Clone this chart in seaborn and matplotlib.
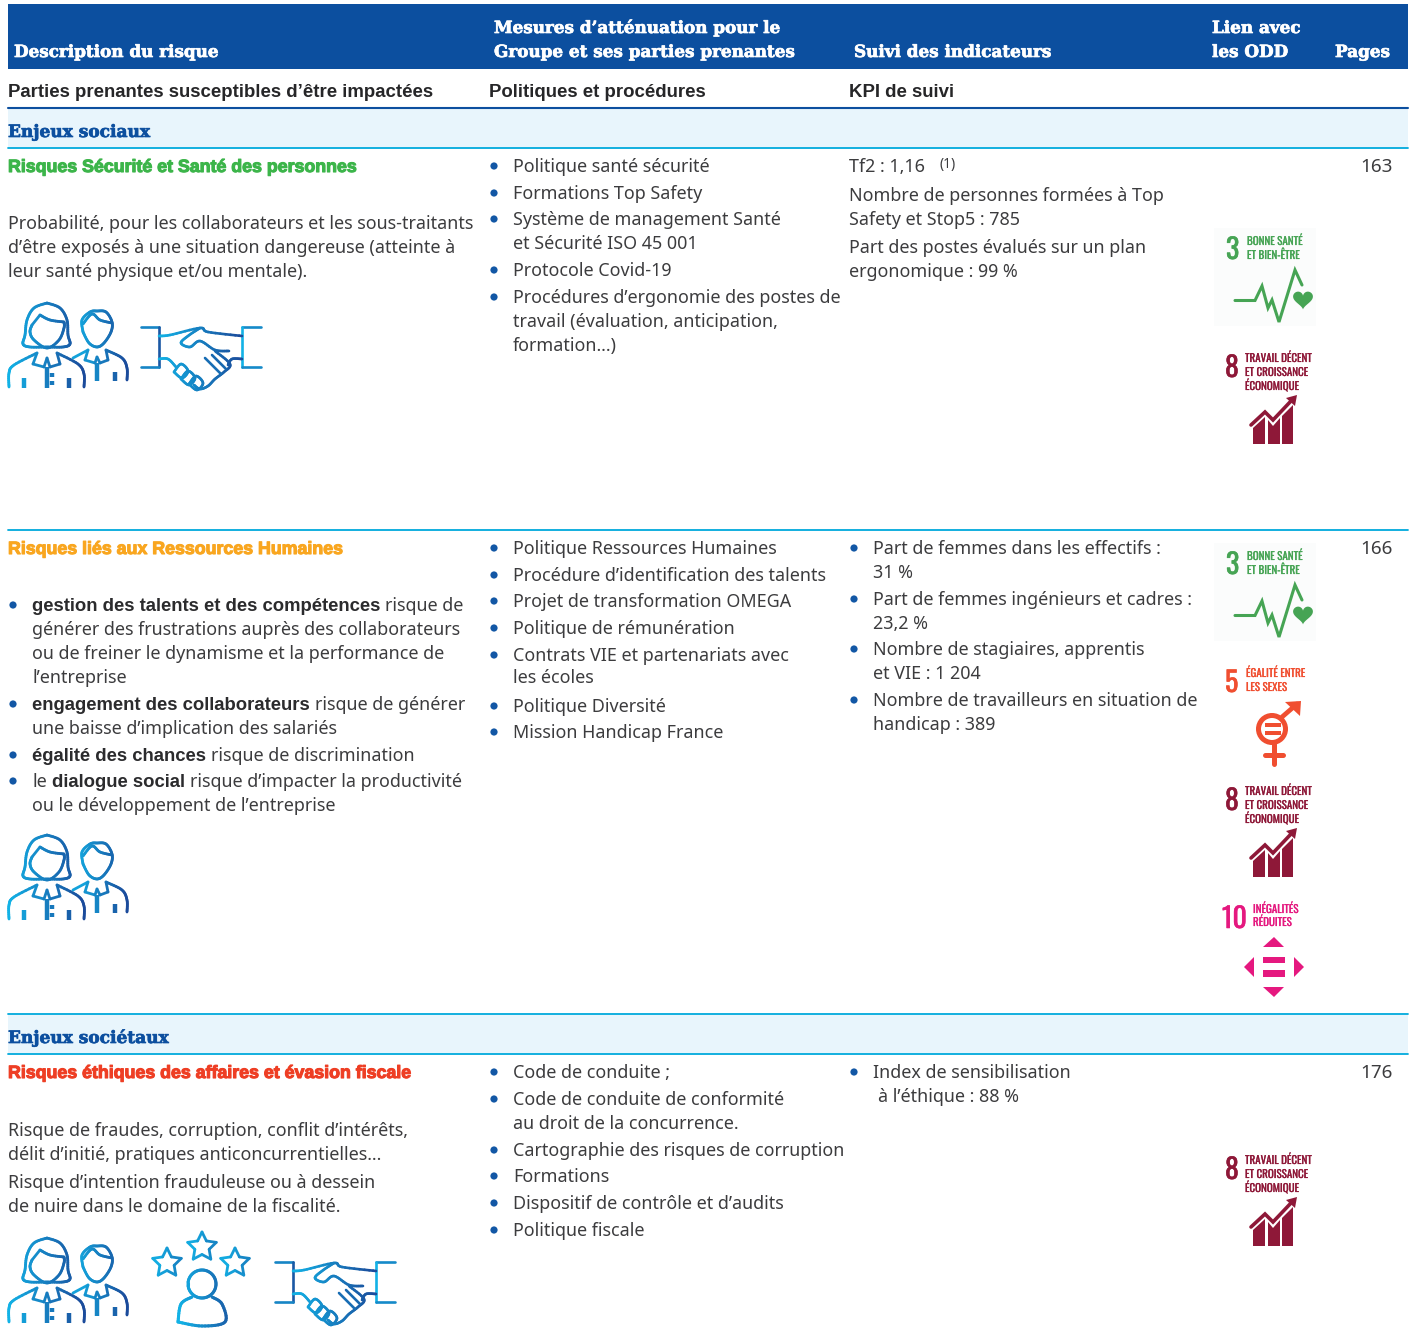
import numpy as np
import matplotlib
matplotlib.use("Agg")
import matplotlib.pyplot as plt
import seaborn as sns
from matplotlib.collections import LineCollection
from matplotlib.patches import Circle, Polygon, Rectangle
import matplotlib.patheffects as pe
import logging
logging.getLogger("matplotlib.font_manager").setLevel(logging.ERROR)

# contenu du tableau
head_titles = ["Description du risque", "Suivi des indicateurs", "Pages"]
head_two_lines = [["Mesures d’atténuation pour le", "Groupe et ses parties prenantes"], ["Lien avec", "les ODD"]]
sub_titles = ["Parties prenantes susceptibles d’être impactées", "Politiques et procédures", "KPI de suivi"]
sections = ["Enjeux sociaux", "Enjeux sociétaux"]
risk_titles = ["Risques Sécurité et Santé des personnes", "Risques liés aux Ressources Humaines",
               "Risques éthiques des affaires et évasion fiscale"]
pages = ["163", "166", "176"]

desc1 = ["Probabilité, pour les collaborateurs et les sous-traitants",
         "d’être exposés à une situation dangereuse (atteinte à",
         "leur santé physique et/ou mentale)."]
desc3 = ["Risque de fraudes, corruption, conflit d’intérêts,",
         "délit d’initié, pratiques anticoncurrentielles…",
         "Risque d’intention frauduleuse ou à dessein",
         "de nuire dans le domaine de la fiscalité."]
# (debut normal, gras, suite normale)
desc2 = [("", "gestion des talents et des compétences", "risque de"),
         ("", "", "générer des frustrations auprès des collaborateurs"),
         ("", "", "ou de freiner le dynamisme et la performance de"),
         ("", "", "l’entreprise"),
         ("", "engagement des collaborateurs", "risque de générer"),
         ("", "", "une baisse d’implication des salariés"),
         ("", "égalité des chances", "risque de discrimination"),
         ("le", "dialogue social", "risque d’impacter la productivité"),
         ("", "", "ou le développement de l’entreprise")]

mes1 = ["Politique santé sécurité", "Formations Top Safety", "Système de management Santé",
        "et Sécurité ISO 45 001", "Protocole Covid-19", "Procédures d’ergonomie des postes de",
        "travail (évaluation, anticipation,", "formation…)"]
mes2 = ["Politique Ressources Humaines", "Procédure d’identification des talents",
        "Projet de transformation OMEGA", "Politique de rémunération", "Contrats VIE et partenariats avec",
        "les écoles", "Politique Diversité", "Mission Handicap France"]
mes3 = ["Code de conduite ;", "Code de conduite de conformité", "au droit de la concurrence.",
        "Cartographie des risques de corruption", "Formations", "Dispositif de contrôle et d’audits",
        "Politique fiscale"]

kpi1 = ["Tf2 : 1,16", "Nombre de personnes formées à Top", "Safety et Stop5 : 785",
        "Part des postes évalués sur un plan", "ergonomique : 99 %"]
kpi2 = ["Part de femmes dans les effectifs :", "31 %", "Part de femmes ingénieurs et cadres :", "23,2 %",
        "Nombre de stagiaires, apprentis", "et VIE : 1 204", "Nombre de travailleurs en situation de",
        "handicap : 389"]
kpi3 = ["Index de sensibilisation", "à l’éthique : 88 %"]

odd3 = ["3", "BONNE SANTÉ", "ET BIEN-ÊTRE"]
odd5 = ["5", "ÉGALITÉ ENTRE", "LES SEXES"]
odd8 = ["8", "TRAVAIL DÉCENT", "ET CROISSANCE", "ÉCONOMIQUE"]
odd10 = ["10", "INÉGALITÉS", "RÉDUITES"]

# positions verticales (lignes de base, en pixels)
y_desc1 = [229, 253, 277]
y_desc2 = [611, 635, 659, 683, 710, 734, 761, 787, 811]
y_desc3 = [1136, 1160, 1188, 1212]
y_mes1 = [172, 199, 225, 249, 276, 303, 327, 351]
y_mes2 = [554, 581, 607, 634, 661, 683, 712, 738]
y_mes3 = [1078, 1105, 1129, 1156, 1182, 1209, 1236]
y_kpi1 = [172, 201, 225, 253, 277]
y_kpi2 = [554, 578, 605, 629, 655, 679, 706, 730]
y_kpi3 = [1078, 1102]
bul_mes1 = [0, 1, 2, 4, 5]
bul_mes2 = [0, 1, 2, 3, 4, 6, 7]
bul_mes3 = [0, 1, 3, 4, 5, 6]
bul_kpi2 = [0, 2, 4, 6]
bul_desc2 = [0, 4, 6, 7]

sns.set_theme(style="white")
W, H = 1416, 1341
BODY = ["Noto Sans", "DejaVu Sans"]
SLAB = ["DejaVu Serif"]
GROTESK = ["Liberation Sans"]
NARROW = ["Oswald", "Liberation Sans"]
INK, NAVY, CYAN, DOT = "#3c3c3e", "#0c4f9f", "#00a9dc", "#1257a5"
BODY_SIZE = 12.9
icon_cols = sns.blend_palette(["#12b2e6", "#1b4b9b"], 40)

fig = plt.figure(figsize=(W / 100, H / 100), dpi=100)
ax = fig.add_axes([0, 0, 1, 1])
ax.set_xlim(0, W)
ax.set_ylim(H, 0)
ax.axis("off")
sns.despine(ax=ax, left=True, bottom=True)
rend = fig.canvas.get_renderer()


def put(x, y, s, size=BODY_SIZE, color=INK, family=BODY, weight="normal", heavy=0, **kw):
    t = ax.text(x, y, s, fontsize=size, color=color, family=family, weight=weight, va="baseline", **kw)
    if heavy:
        t.set_path_effects([pe.withStroke(linewidth=heavy, foreground=color)])
    return t


def body(x, y, s, weight="normal"):
    if weight == "bold":
        t = put(x, y, s, size=13.37, color="#2b2b2d", family=GROTESK, weight="bold")
    else:
        t = put(x, y, s)
    return x + t.get_window_extent(rend).width


def dot(x, y):
    ax.add_patch(Circle((x, y - 6), 3.6, color=DOT, lw=0))


def stroke(pts, x0, x1, lw=2.0, smooth=True):
    # trait en degrade clair -> fonce selon x
    p = np.array(pts, dtype=float)
    if smooth and len(p) > 2:
        q = np.vstack([p[0], p, p[-1]])
        out = []
        for i in range(1, len(q) - 2):
            for t in np.linspace(0, 1, 8, endpoint=False):
                a, b, c, d = q[i - 1], q[i], q[i + 1], q[i + 2]
                out.append(0.5 * (2 * b + (c - a) * t + (2 * a - 5 * b + 4 * c - d) * t ** 2
                                  + (3 * b - a - 3 * c + d) * t ** 3))
        out.append(p[-1])
        p = np.array(out)
    segs = np.stack([p[:-1], p[1:]], axis=1)
    mid = np.clip((segs[:, :, 0].mean(axis=1) - x0) / (x1 - x0), 0, 0.999)
    cols = [icon_cols[int(m * len(icon_cols))] for m in mid]
    cap = "butt" if lw >= 3 else "round"
    ax.add_collection(LineCollection(segs, colors=cols, linewidths=lw, capstyle=cap, joinstyle="round"))


def people(dy):
    def s(pts, smooth=True, lw=2.0, a=8, b=85):
        stroke([(x, y + dy) for x, y in pts], a, b, lw, smooth)
    s([(47, 303), (34, 308), (27, 320), (25, 335), (23, 344), (30, 347), (47, 347)], True)
    s([(47, 303), (60, 308), (67, 320), (68, 335), (70, 344), (63, 347), (47, 347)], True)
    s([(32, 325), (40, 315)], False)
    s([(40, 315), (50, 320), (64, 322)], True)
    s([(32, 325), (30, 332), (34, 340), (47, 348), (59, 340), (64, 328), (64, 322)], True)
    s([(9, 387), (9, 373), (14, 365), (37, 353)], True)
    s([(37, 353), (33, 364), (44, 367), (47, 358), (50, 367), (60, 364), (57, 353)], False)
    s([(57, 353), (78, 364), (84, 374), (84, 387)], True)
    for x, y0, y1 in [(47, 367, 388), (24, 378, 388), (69, 378, 388), (52, 373, 377), (52, 381, 385)]:
        s([(x, y0), (x, y1)], False, 3.2)

    def m(pts, smooth=True, lw=2.0):
        stroke([(x, y + dy) for x, y in pts], 72, 128, lw, smooth)
    m([(83, 332), (82, 320), (90, 312), (97, 311), (106, 312), (112, 322), (111, 332), (104, 343), (97, 347),
       (89, 343), (83, 332)])
    m([(83, 324), (92, 314), (100, 320), (112, 323)])
    m([(73, 358), (88, 350)], False)
    m([(88, 350), (85, 360), (95, 363), (97, 357), (100, 363), (108, 360), (106, 350)], False)
    m([(106, 350), (122, 358), (127, 368), (127, 380)])
    m([(97, 363), (97, 381)], False, 3.2)
    m([(115, 372), (115, 381)], False, 3.2)


def handshake(dx, dy):
    a, b = 159 + dx, 242 + dx

    def s(pts, smooth=True, lw=1.9, lo=None, hi=None):
        stroke([(x + dx, y + dy) for x, y in pts], lo or a, hi or b, lw, smooth)
    s([(141, 327), (159, 327), (159, 367), (141, 367)], False, lo=141 + dx, hi=162 + dx)
    s([(261, 327), (242, 327), (242, 367), (261, 367)], False, lo=242 + dx, hi=266 + dx)
    s([(159, 336), (170, 335), (200, 328), (208, 332), (242, 336)])
    s([(200, 328), (188, 336), (181, 343), (190, 347), (200, 341), (215, 350), (229, 351)])
    s([(159, 359), (168, 359), (176, 367)])
    s([(242, 359), (232, 359), (228, 365)])
    s([(215, 351), (230, 364), (224, 372), (215, 379), (208, 386), (200, 389), (194, 385)])
    s([(205, 358), (221, 374)], False)
    s([(212, 355), (226, 369)], False)
    for cx, cy in [(181, 371), (188, 378), (196, 383)]:
        s([(cx - 7, cy + 1), (cx, cy - 7), (cx + 7, cy), (cx + 1, cy + 7), (cx - 7, cy + 1)])


def star_person():
    for cx, cy, r in [(167, 1263, 15), (202, 1247, 15), (235, 1263, 15)]:
        ang = np.deg2rad(np.arange(0, 361, 36) - 90)
        rad = np.where(np.arange(11) % 2 == 0, r, r * 0.5)
        stroke(np.c_[cx + rad * np.cos(ang), cy + rad * np.sin(ang)], cx - r, cx + r * 3, 2.0, False)
    th = np.linspace(0, 2 * np.pi, 60)
    stroke(np.c_[202 + 14 * np.cos(th), 1284 + 14 * np.sin(th)], 178, 240, 2.2, False)
    stroke([(178, 1322), (181, 1304), (192, 1297)], 178, 240, 2.2)
    stroke([(212, 1297), (222, 1304), (225, 1322), (202, 1326), (178, 1322)], 178, 240, 2.2)


def odd_head(lab, color, xn, yn, nsize, xt, yt):
    put(xn, yn, lab[0], size=nsize, color=color, family=NARROW, weight="bold", heavy=0.4)
    for s, y in zip(lab[1:], yt):
        put(xt, y, s, size=7.9, color=color, family=NARROW, weight="bold", heavy=0.15)


def sdg3(dy):
    col = "#46a454"
    ax.add_patch(Rectangle((1214, 228 + dy), 102, 98, color="#fbfcfc", lw=0))
    odd_head(odd3, col, 1226, 259 + dy, 20, 1247, [245 + dy, 259 + dy])
    xs = [1235, 1255, 1262, 1268, 1272, 1279, 1295, 1302]
    ys = [300.5, 300.5, 286, 308, 300, 322, 270, 285]
    ax.plot(xs, [v + dy for v in ys], color=col, lw=2.2, solid_joinstyle="miter")
    t = np.linspace(0, 2 * np.pi, 60)
    hx = 1303 + 0.62 * 16 * np.sin(t) ** 3
    hy = 299 + dy - 0.62 * (13 * np.cos(t) - 5 * np.cos(2 * t) - 2 * np.cos(3 * t) - np.cos(4 * t))
    ax.add_patch(Polygon(np.c_[hx, hy], color=col, lw=0))


def sdg8(dy):
    col = "#8e1838"
    odd_head(odd8, col, 1225, 377 + dy, 20, 1245, [362 + dy, 376 + dy, 390 + dy])
    bars = [[(1253, 444), (1253, 428), (1265, 417), (1265, 444)],
            [(1268, 444), (1268, 420), (1273, 426), (1280, 418), (1280, 444)],
            [(1282, 444), (1282, 416), (1293, 405), (1293, 444)]]
    for b in bars:
        ax.add_patch(Polygon([(x, y + dy) for x, y in b], color=col, lw=0))
    ax.plot([1251, 1265, 1273, 1291], [425 + dy, 412 + dy, 420 + dy, 401 + dy], color=col, lw=2.6,
            solid_joinstyle="miter")
    ax.add_patch(Polygon([(1297, 395 + dy), (1295, 406 + dy), (1286, 398 + dy)], color=col, lw=0))


def sdg5():
    col = "#f04e30"
    odd_head(odd5, col, 1225, 692, 20, 1246, [677, 691])
    ax.add_patch(Circle((1272, 729), 13.5, fill=False, ec=col, lw=3.6))
    for y in (723, 731):
        ax.add_patch(Rectangle((1265, y), 16, 3.6, color=col, lw=0))
    ax.plot([1282, 1297], [717, 704], color=col, lw=3.4)
    ax.add_patch(Polygon([(1301, 701), (1285, 702), (1300, 716)], color=col, lw=0))
    ax.plot([1274, 1274], [744, 764], color=col, lw=3.6)
    ax.plot([1265, 1283], [755, 755], color=col, lw=3.6)


def sdg10():
    col = "#e5187f"
    odd_head(odd10, col, 1222, 928, 20, 1253, [913, 926])
    tris = [[(1263, 947), (1284, 947), (1274, 937)], [(1263, 987), (1284, 987), (1274, 997)],
            [(1254, 957), (1254, 977), (1244, 967)], [(1294, 957), (1294, 977), (1304, 967)]]
    for tr in tris:
        ax.add_patch(Polygon(tr, color=col, lw=0))
    ax.add_patch(Rectangle((1263, 957), 22, 6, color=col, lw=0))
    ax.add_patch(Rectangle((1263, 970), 22, 6.5, color=col, lw=0))


# bandeaux et filets
ax.add_patch(Rectangle((8, 4), 1400, 65, color=NAVY, lw=0))
ax.add_patch(Rectangle((8, 109), 1400, 38, color="#e8f5fc", lw=0))
ax.add_patch(Rectangle((8, 1015), 1400, 38, color="#e8f5fc", lw=0))
ax.plot([8, 1408], [107.5, 107.5], color=NAVY, lw=1.5)
for y in (148, 530, 1014, 1054):
    ax.plot([8, 1408], [y, y], color=CYAN, lw=1.3)

# en-tetes
HEAD = 12.1
for x, s in zip([14, 854, 1335], head_titles):
    put(x, 57, s, size=HEAD, color="white", family=SLAB, weight="bold", heavy=0.5)
for x, pair in zip([494, 1212], head_two_lines):
    put(x, 33, pair[0], size=HEAD, color="white", family=SLAB, weight="bold", heavy=0.5)
    put(x, 57, pair[1], size=HEAD, color="white", family=SLAB, weight="bold", heavy=0.5)
for x, s in zip([8, 489, 849], sub_titles):
    put(x, 97, s, size=13.4, color="#262628", family=GROTESK, weight="bold")
for y, s in zip([137, 1043], sections):
    put(8, y, s, size=12.25, color=NAVY, family=SLAB, weight="bold", heavy=0.5)

risk_cols = ["#3cb54a", "#f9a61f", "#ee3e24"]
for y, s, c in zip([172, 554, 1078], risk_titles, risk_cols):
    put(8, y, s, size=12.8, color=c, family=GROTESK, weight="bold", heavy=0.8)

for y, s in zip([172, 554, 1078], pages):
    put(1393, y, s, size=13.6, ha="right")

# colonne description
for y, s in zip(y_desc1, desc1):
    body(8, y, s)
for y, s in zip(y_desc3, desc3):
    body(8, y, s)
for i, (y, parts) in enumerate(zip(y_desc2, desc2)):
    if i in bul_desc2:
        dot(13, y)
    x = 32
    if parts[0]:
        x = body(x, y, parts[0]) + 5
    if parts[1]:
        x = body(x, y, parts[1], "bold") + 5
    body(x, y, parts[2])

# colonne mesures
for lines, ys, bul in [(mes1, y_mes1, bul_mes1), (mes2, y_mes2, bul_mes2), (mes3, y_mes3, bul_mes3)]:
    for i, (y, s) in enumerate(zip(ys, lines)):
        if i in bul:
            dot(494, y)
        body(513, y, s)

# colonne KPI
for y, s in zip(y_kpi1, kpi1):
    body(849, y, s)
put(940, 168, "(1)", size=10)
for i, (y, s) in enumerate(zip(y_kpi2, kpi2)):
    if i in bul_kpi2:
        dot(854, y)
    body(873, y, s)
dot(854, y_kpi3[0])
body(873, y_kpi3[0], kpi3[0])
body(878, y_kpi3[1], kpi3[1])

# pictos
people(0)
people(532)
people(935)
handshake(0, 0)
handshake(134, 935)
star_person()
sdg3(0)
sdg8(0)
sdg3(315)
sdg5()
sdg8(433)
sdg10()
sdg8(802)

fig.savefig("out.png", dpi=100, facecolor="white")
